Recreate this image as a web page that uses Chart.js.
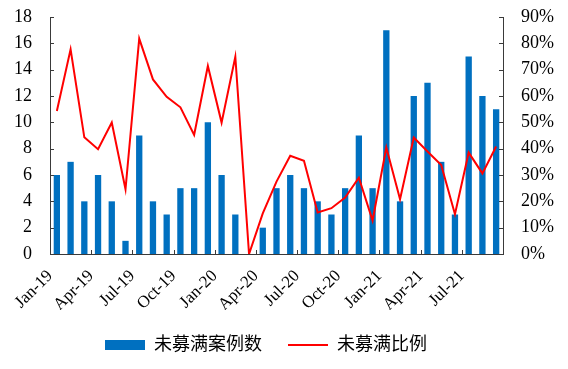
<!DOCTYPE html>
<html>
<head>
<meta charset="utf-8">
<script src="https://cdn.jsdelivr.net/npm/chart.js@4.4.1/dist/chart.umd.min.js"></script>
<style>
  html, body { margin: 0; padding: 0; background: #fff; }
  #wrap { width: 568px; height: 369px; position: relative; }
</style>
</head>
<body>
<div id="wrap"><canvas id="c" width="568" height="369"></canvas></div>
<script>
const months = ["Jan-19","Feb-19","Mar-19","Apr-19","May-19","Jun-19","Jul-19","Aug-19","Sep-19","Oct-19","Nov-19","Dec-19",
  "Jan-20","Feb-20","Mar-20","Apr-20","May-20","Jun-20","Jul-20","Aug-20","Sep-20","Oct-20","Nov-20","Dec-20",
  "Jan-21","Feb-21","Mar-21","Apr-21","May-21","Jun-21","Jul-21","Aug-21","Sep-21"];
const unfilledCases = [6,7,4,6,4,1,9,4,3,5,5,10, 6,3,0,2,5,6,5,4,3,5,9,5, 17,4,12,13,7,3,15,12,11];
const unfilledRatio = [54.3,77.7,44.3,39.8,49.9,24.6,81.8,66.3,59.7,55.7,45.2,71.4,
  49.9,74.9,0,15.4,27.5,37.3,35.4,15.8,17.4,21.4,29.0,12.7,
  40.4,20.8,44.2,38.9,33.8,15.1,38.5,30.6,40.8];
const leftTicks = [0,2,4,6,8,10,12,14,16,18];
const rightTicks = [0,10,20,30,40,50,60,70,80,90];
const seriesNames = ["未募满案例数", "未募满比例"];

const BLUE = "#0070C0", RED = "#FF0000", AXIS = "#3a3a3a";
const FONT = "'Liberation Serif', 'Times New Roman', serif";

const inwardTicks = {
  id: 'inwardTicks',
  afterLayout(chart) {
    if (chart.legend) { chart.legend.right = chart.legend.right - 28; }
  },
  afterDatasetsDraw(chart) {
    const ctx = chart.ctx;
    const x = chart.scales.x, y = chart.scales.y, y1 = chart.scales.y1;
    ctx.save();
    ctx.strokeStyle = AXIS;
    ctx.lineWidth = 1;
    ctx.beginPath();
    leftTicks.forEach(v => {
      const py = Math.round(y.getPixelForValue(v)) + 0.5;
      ctx.moveTo(y.right, py); ctx.lineTo(y.right + 4, py);
    });
    rightTicks.forEach(v => {
      const py = Math.round(y1.getPixelForValue(v)) + 0.5;
      ctx.moveTo(y1.left, py); ctx.lineTo(y1.left - 4, py);
    });
    const half = (x.getPixelForValue(1) - x.getPixelForValue(0)) / 2;
    for (let i = 3; i < months.length; i += 3) {
      const px = Math.round(x.getPixelForValue(i) - half) + 0.5;
      ctx.moveTo(px, x.top); ctx.lineTo(px, x.top - 4);
    }
    ctx.stroke();
    ctx.restore();
  }
};

function fitY(width) {
  return function (s) { s.width = width; s.paddingTop = 0; s.paddingBottom = 0; };
}

new Chart(document.getElementById('c'), {
  data: {
    labels: months,
    datasets: [
      {
        type: 'bar',
        label: seriesNames[0],
        data: unfilledCases,
        backgroundColor: BLUE,
        yAxisID: 'y',
        order: 2,
        categoryPercentage: 1,
        barPercentage: 0.46
      },
      {
        type: 'line',
        label: seriesNames[1],
        data: unfilledRatio,
        borderColor: RED,
        backgroundColor: RED,
        borderWidth: 2,
        pointRadius: 0,
        tension: 0,
        yAxisID: 'y1',
        order: 1
      }
    ]
  },
  options: {
    responsive: false,
    animation: false,
    events: [],
    layout: { padding: { top: 17, bottom: 5, left: 0, right: 8 } },
    plugins: {
      tooltip: { enabled: false },
      legend: {
        position: 'bottom',
        labels: {
          font: { family: FONT + ", 'Noto Sans CJK SC'", size: 18 },
          color: '#000',
          usePointStyle: true,
          pointStyleWidth: 40,
          boxHeight: 10,
          padding: 26,
          sort: (a, b) => a.datasetIndex - b.datasetIndex,
          generateLabels(chart) {
            const items = Chart.defaults.plugins.legend.labels.generateLabels(chart);
            items.forEach(it => {
              if (it.datasetIndex === 0) {
                it.pointStyle = 'rect';
                it.fillStyle = BLUE; it.strokeStyle = BLUE; it.lineWidth = 0;
              } else {
                it.pointStyle = 'line';
                it.fillStyle = RED; it.strokeStyle = RED; it.lineWidth = 2;
              }
            });
            return items;
          }
        }
      }
    },
    scales: {
      x: {
        type: 'category',
        offset: true,
        grid: { display: false, drawTicks: false },
        border: { display: true, color: AXIS, width: 1 },
        ticks: {
          autoSkip: false,
          maxRotation: 45,
          minRotation: 45,
          padding: 12,
          labelOffset: -6.86,
          color: '#000',
          font: { family: FONT, size: 17 },
          callback(v, i) { return i % 3 === 0 ? months[i] : ''; }
        },
        afterFit(s) { s.height = 56; s.paddingLeft = 0; s.paddingRight = 0; }
      },
      y: {
        position: 'left',
        min: 0, max: 18,
        grid: { display: false, drawTicks: false },
        border: { display: true, color: AXIS, width: 1 },
        ticks: {
          stepSize: 2,
          padding: 18,
          color: '#000',
          font: { family: FONT, size: 18 }
        },
        afterFit: fitY(50)
      },
      y1: {
        position: 'right',
        min: 0, max: 90,
        grid: { display: false, drawTicks: false },
        border: { display: true, color: AXIS, width: 1 },
        ticks: {
          stepSize: 10,
          padding: 18,
          color: '#000',
          font: { family: FONT, size: 18 },
          callback(v) { return v + '%'; }
        },
        afterFit: fitY(57)
      }
    }
  },
  plugins: [inwardTicks]
});
</script>
</body>
</html>
